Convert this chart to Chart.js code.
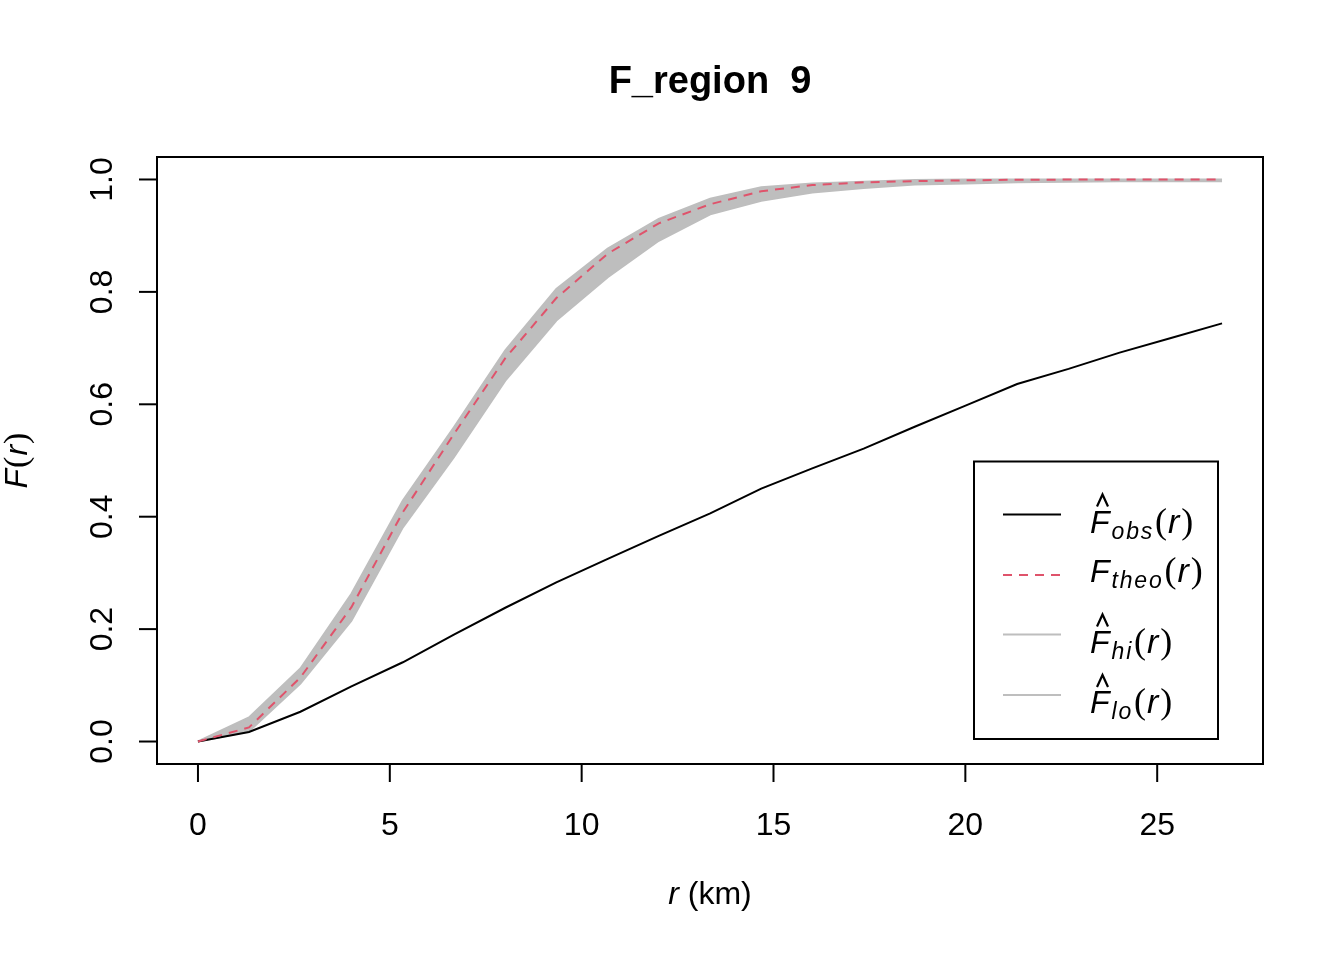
<!DOCTYPE html>
<html>
<head>
<meta charset="utf-8">
<title>F_region 9</title>
<script src="https://cdn.jsdelivr.net/npm/chart.js@4.4.1/dist/chart.umd.min.js"></script>
<style>
  html, body { margin: 0; padding: 0; background: #ffffff; }
  canvas { display: block; }
</style>
</head>
<body>
<canvas id="fChart" width="1344" height="960" style="width:1344px;height:960px"></canvas>
<script>
// distances (km) and the F-function estimates
const rKm = [0, 1.33, 2.67, 4.00, 5.34, 6.67, 8.01, 9.34, 10.68, 12.01, 13.35,
             14.68, 16.01, 17.35, 18.68, 20.02, 21.35, 22.69, 24.02, 25.36, 26.69];
const fObs = [0, 0.017, 0.053, 0.098, 0.141, 0.190, 0.238, 0.283, 0.325, 0.366, 0.406,
              0.450, 0.486, 0.521, 0.560, 0.598, 0.636, 0.663, 0.692, 0.718, 0.744];
const fTheo = [0, 0.025, 0.114, 0.239, 0.408, 0.547, 0.682, 0.789, 0.868, 0.922, 0.956,
               0.979, 0.990, 0.995, 0.997, 0.9985, 0.9995, 0.9998, 1, 1, 1];
const fHi = [0, 0.043, 0.130, 0.263, 0.429, 0.559, 0.696, 0.805, 0.877, 0.930, 0.966,
             0.986, 0.993, 0.996, 0.999, 1, 1, 1, 1, 1, 1];
const fLo = [0, 0.018, 0.103, 0.215, 0.381, 0.506, 0.642, 0.749, 0.826, 0.891, 0.938,
             0.962, 0.977, 0.985, 0.991, 0.993, 0.995, 0.996, 0.997, 0.997, 0.997];

const xTicks = [0, 5, 10, 15, 20, 25];
const yTicks = [0, 0.2, 0.4, 0.6, 0.8, 1.0];
const yTickLabels = ['0.0', '0.2', '0.4', '0.6', '0.8', '1.0'];
const chartTitle = 'F_region  9';

const SANS = '"Liberation Sans", Arial, sans-serif';
const SERIF = '"Liberation Serif", "Times New Roman", serif';
const GREY = '#BEBEBE';
const RED = '#DF536B';

function pts(ys) {
    return rKm.map((r, i) => ({ x: r, y: ys[i] }));
}

// F, optional hat and subscript, then (r) -- plotmath style
function drawFr(ctx, x, y, sub, hat) {
    let cx = x;
    ctx.font = 'italic 32px ' + SANS;
    ctx.fillText('F', cx, y);
    if (hat) {
        ctx.beginPath();
        ctx.moveTo(cx + 7, y - 26);
        ctx.lineTo(cx + 12.5, y - 38);
        ctx.lineTo(cx + 18, y - 26);
        ctx.lineWidth = 2.2;
        ctx.stroke();
    }
    cx += ctx.measureText('F').width + 2;
    if (sub) {
        ctx.font = 'italic 23px ' + SANS;
        for (const ch of sub) {
            ctx.fillText(ch, cx, y + 6);
            cx += ctx.measureText(ch).width + 1.8;
        }
        cx += 1;
    }
    ctx.font = '36px ' + SERIF;
    ctx.fillText('(', cx, y);
    cx += ctx.measureText('(').width + 1;
    ctx.font = 'italic 34px ' + SANS;
    ctx.fillText('r', cx, y);
    cx += ctx.measureText('r').width + 2;
    ctx.font = '36px ' + SERIF;
    ctx.fillText(')', cx, y);
    cx += ctx.measureText(')').width;
    return cx - x;
}

const whiteBg = {
    id: 'whiteBg',
    beforeDraw(chart) {
        const c = chart.ctx;
        c.save();
        c.fillStyle = '#ffffff';
        c.fillRect(0, 0, chart.width, chart.height);
        c.restore();
    }
};

// base-R style frame, axes, titles and legend
const rDecor = {
    id: 'rDecor',
    afterDraw(chart) {
        const c = chart.ctx;
        const a = chart.chartArea;
        const xs = chart.scales.x;
        const ys = chart.scales.y;
        c.save();
        c.strokeStyle = '#000';
        c.fillStyle = '#000';
        c.lineWidth = 2;
        c.strokeRect(a.left, a.top, a.right - a.left, a.bottom - a.top);

        // x axis
        c.font = '32px ' + SANS;
        c.textAlign = 'center';
        c.textBaseline = 'alphabetic';
        xTicks.forEach(v => {
            const px = xs.getPixelForValue(v);
            c.beginPath();
            c.moveTo(px, a.bottom);
            c.lineTo(px, a.bottom + 18);
            c.stroke();
            c.fillText(String(v), px, a.bottom + 71);
        });

        // y axis, labels parallel to the axis
        yTicks.forEach((v, i) => {
            const py = ys.getPixelForValue(v);
            c.beginPath();
            c.moveTo(a.left, py);
            c.lineTo(a.left - 18, py);
            c.stroke();
            c.save();
            c.translate(100.5, py);
            c.rotate(-Math.PI / 2);
            c.textAlign = 'center';
            c.fillText(yTickLabels[i], 0, 11.5);
            c.restore();
        });

        // title
        c.font = 'bold 38px ' + SANS;
        c.textAlign = 'center';
        c.fillText(chartTitle, (a.left + a.right) / 2, 93);

        // x label: r (km)
        c.textAlign = 'left';
        c.font = 'italic 32px ' + SANS;
        const wr = c.measureText('r').width;
        c.font = '32px ' + SANS;
        const wk = c.measureText(' (km)').width;
        const lx = (a.left + a.right) / 2 - (wr + wk) / 2;
        c.font = 'italic 32px ' + SANS;
        c.fillText('r', lx, 904);
        c.font = '32px ' + SANS;
        c.fillText(' (km)', lx + wr, 904);

        // y label: F(r)
        c.save();
        c.translate(27, (a.top + a.bottom) / 2);
        c.rotate(-Math.PI / 2);
        c.font = 'italic 32px ' + SANS;
        const wF = c.measureText('F').width;
        c.font = '34px ' + SERIF;
        const wp = c.measureText('(').width;
        c.font = 'italic 32px ' + SANS;
        const wrr = c.measureText('r').width;
        const total = wF + wp + wrr + wp + 3;
        let tx = -total / 2;
        c.font = 'italic 32px ' + SANS;
        c.fillText('F', tx, 0); tx += wF + 1;
        c.font = '34px ' + SERIF;
        c.fillText('(', tx, 0); tx += wp + 1;
        c.font = 'italic 32px ' + SANS;
        c.fillText('r', tx, 0); tx += wrr + 1;
        c.font = '34px ' + SERIF;
        c.fillText(')', tx, 0);
        c.restore();

        // legend
        c.lineWidth = 2;
        c.strokeStyle = '#000';
        c.strokeRect(974, 461.5, 244, 277.5);
        const rows = [
            { y: 514.5, color: '#000', dash: [], sub: 'obs', hat: true, base: 18 },
            { y: 575, color: RED, dash: [9, 7], sub: 'theo', hat: false, base: 7 },
            { y: 634.5, color: GREY, dash: [], sub: 'hi', hat: true, base: 18 },
            { y: 695, color: GREY, dash: [], sub: 'lo', hat: true, base: 18 }
        ];
        rows.forEach(row => {
            c.save();
            c.strokeStyle = row.color;
            c.setLineDash(row.dash);
            c.beginPath();
            c.moveTo(1003, row.y);
            c.lineTo(1061, row.y);
            c.stroke();
            c.restore();
            c.textAlign = 'left';
            c.strokeStyle = '#000';
            drawFr(c, 1090, row.y + row.base, row.sub, row.hat);
        });
        c.restore();
    }
};

const ctx = document.getElementById('fChart').getContext('2d');
new Chart(ctx, {
    type: 'line',
    data: {
        datasets: [
            {
                label: 'hi',
                data: pts(fHi),
                borderColor: GREY,
                backgroundColor: GREY,
                borderWidth: 2,
                fill: '+1',
                pointRadius: 0,
                order: 3
            },
            {
                label: 'lo',
                data: pts(fLo),
                borderColor: GREY,
                borderWidth: 2,
                fill: false,
                pointRadius: 0,
                order: 4
            },
            {
                label: 'obs',
                data: pts(fObs),
                borderColor: '#000000',
                borderWidth: 2,
                fill: false,
                pointRadius: 0,
                order: 2
            },
            {
                label: 'theo',
                data: pts(fTheo),
                borderColor: RED,
                borderDash: [9, 7],
                borderWidth: 2,
                fill: false,
                pointRadius: 0,
                order: 1
            }
        ]
    },
    options: {
        responsive: false,
        animation: false,
        layout: { padding: { left: 157, top: 157, right: 81, bottom: 196 } },
        elements: { line: { tension: 0 } },
        scales: {
            x: { type: 'linear', min: -1.0676, max: 27.7576, display: false },
            y: { type: 'linear', min: -0.04, max: 1.04, display: false }
        },
        plugins: {
            legend: { display: false },
            tooltip: { enabled: false },
            title: { display: false }
        }
    },
    plugins: [whiteBg, rDecor]
});
</script>
</body>
</html>
